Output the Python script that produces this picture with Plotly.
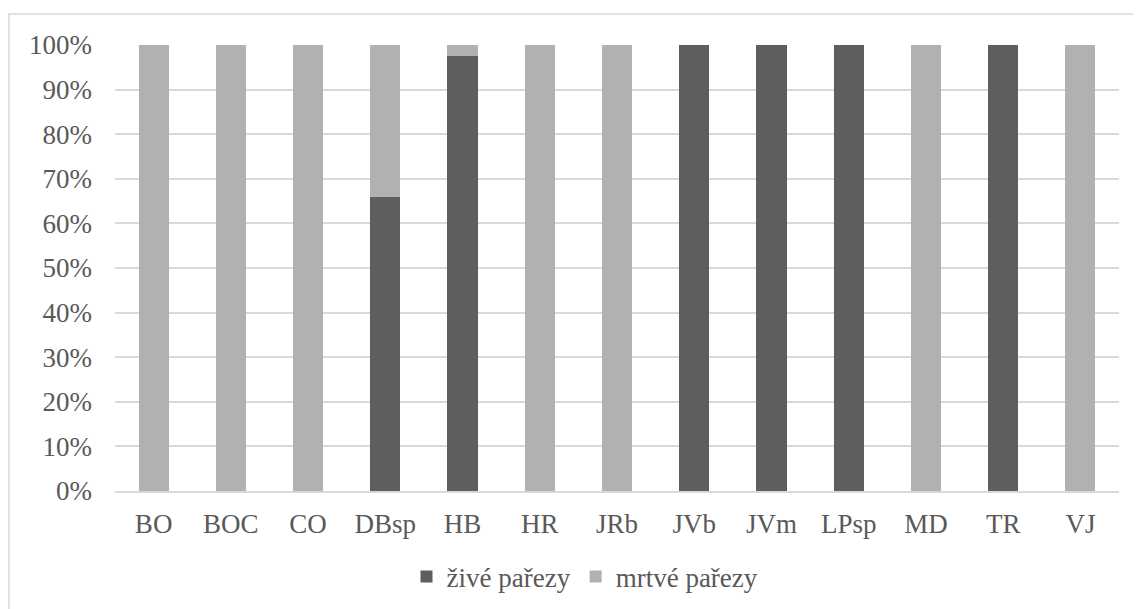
import plotly.graph_objects as go

categories = ["BO", "BOC", "CO", "DBsp", "HB", "HR", "JRb", "JVb", "JVm", "LPsp", "MD", "TR", "VJ"]
zive = [0, 0, 0, 66.0, 97.6, 0, 0, 100, 100, 100, 0, 100, 0]
mrtve = [100, 100, 100, 34.0, 2.4, 100, 100, 0, 0, 0, 100, 0, 100]
y_ticks = [0, 10, 20, 30, 40, 50, 60, 70, 80, 90, 100]
y_labels = [f"{v}%" for v in y_ticks]

W, H = 1141, 609
OFF = 8  # page body margin
left, right, top, bottom = 115, 1119, 45, 491  # plot area in page pixels
ml = left - OFF
mt = top - OFF
mr = (W + OFF) - right
mb = (H + OFF) - bottom
pw, ph = right - left, bottom - top

fam = "Liberation Serif"
font = dict(family=fam, size=27, color="#595959")

fig = go.Figure()
fig.add_trace(go.Bar(x=categories, y=zive, name="živé pařezy", marker=dict(color="#5e5e5e", line=dict(width=0))))
fig.add_trace(go.Bar(x=categories, y=mrtve, name="mrtvé pařezy", marker=dict(color="#b1b1b1", line=dict(width=0))))

def px_x(p):
    return (p - left) / pw

def px_y(p):
    return (bottom - p) / ph

fig.update_layout(
    width=W, height=H,
    margin=dict(l=ml, r=mr, t=mt, b=mb),
    barmode="stack",
    bargap=0.61,
    paper_bgcolor="white",
    plot_bgcolor="white",
    font=font,
    showlegend=True,
    legend=dict(orientation="h", x=px_x(585), xanchor="center", y=px_y(577), yanchor="middle",
                font=dict(family=fam, size=27, color="#595959"),
                traceorder="normal"),
    xaxis=dict(showgrid=False, showline=True, linecolor="#d9d9d9", linewidth=1.5,
               ticks="", ticklabelstandoff=8, tickfont=font),
    yaxis=dict(range=[0, 100], tickmode="array", tickvals=y_ticks, ticktext=y_labels, showgrid=True,
               gridcolor="#d9d9d9", gridwidth=1.5, zeroline=False, showline=False,
               ticks="", ticklabelstandoff=22, tickfont=font),
    shapes=[dict(type="rect", xref="paper", yref="paper",
                 x0=px_x(9), x1=px_x(1160), y0=px_y(630), y1=px_y(14),
                 line=dict(color="#d9d9d9", width=1.5), fillcolor="rgba(0,0,0,0)", layer="below")],
)

fig.write_html("out.html")
